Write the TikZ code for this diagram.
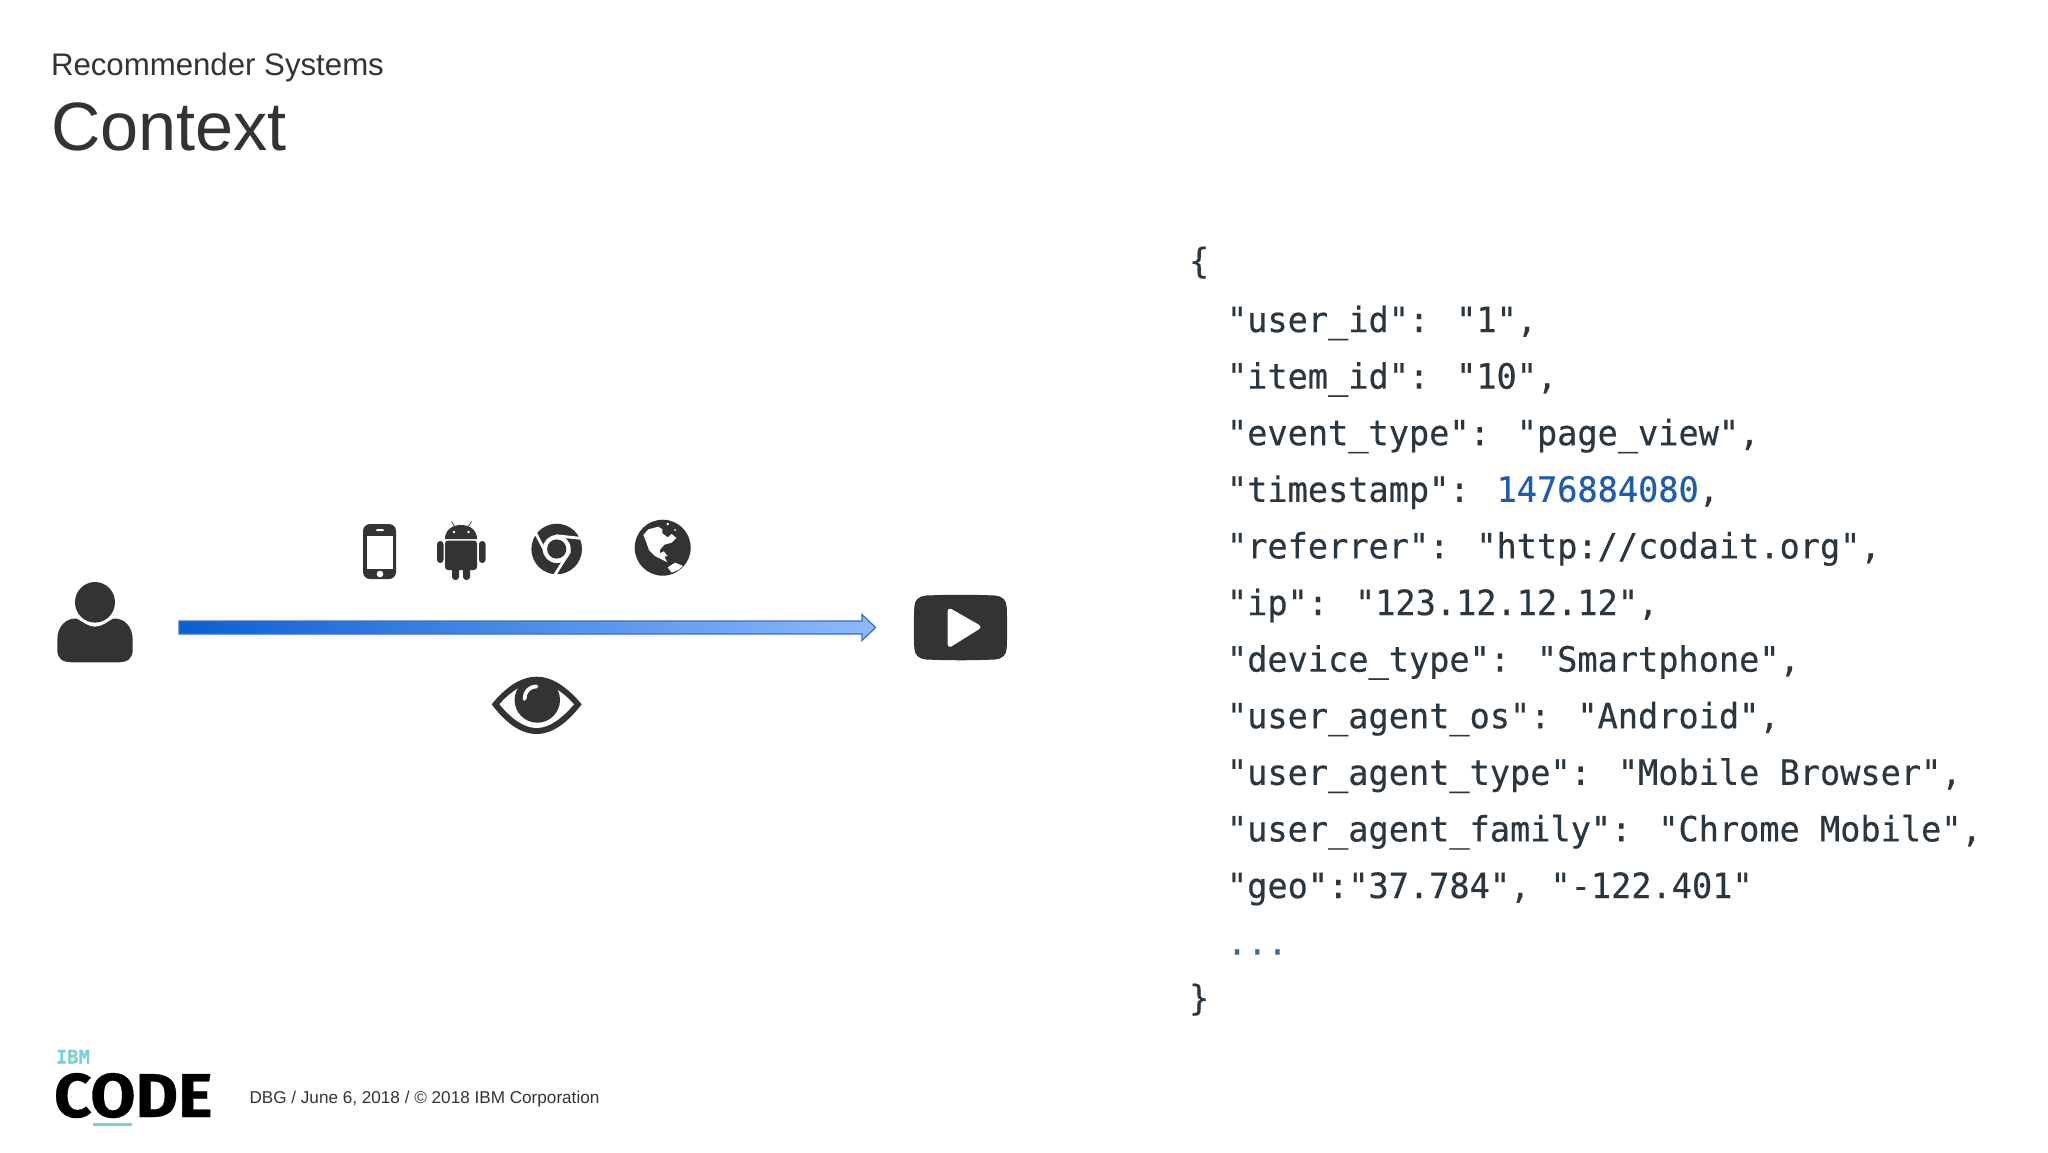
\documentclass[tikz,border=0pt]{standalone}
\usepackage{fontspec}
\setmainfont{Liberation Sans}
\newfontfamily\jsonfont{DejaVu Sans Mono}[FakeStretch=0.965,RawFeature={embolden=0.45}]
\newfontfamily\logofont{Fira Sans}[UprightFont=* Bold,FakeStretch=1.055,RawFeature={embolden=0.5}]
\newfontfamily\ibmfont{DejaVu Sans Mono Bold}[RawFeature={embolden=0.4}]
\definecolor{icon}{HTML}{333333}
\definecolor{ink}{HTML}{2A3640}
\definecolor{numblue}{HTML}{1F5CAB}
\definecolor{dotblue}{HTML}{3F6C8E}
\definecolor{teal}{HTML}{78D2D0}
\definecolor{arrowA}{HTML}{0B5FD2}
\definecolor{arrowB}{HTML}{8FB9FA}
\definecolor{arrowEdge}{HTML}{3B6FC4}
\tikzset{
  txt/.style={inner sep=0pt,outer sep=0pt,anchor=base west},
  jsonline/.style={txt,text=ink,font=\jsonfont\fontsize{17.4}{20}\selectfont},
  iconfill/.style={fill=icon,draw=none},
  knock/.style={fill=white,draw=none},
  cut/.style={draw=white,line width=1.4pt,line cap=butt},
}
\begin{document}
\begin{tikzpicture}[x=0.5pt,y=-0.5pt]
\useasboundingbox (0,0) rectangle (2048,1152);
% titles
\node[txt,text=icon,font=\fontsize{15.6}{18}\selectfont] (sub) at (51,75.7) {Recommender Systems};
\node[txt,text=icon,font=\fontsize{34.2}{40}\selectfont] (title) at (51,150.2) {Context};
% person
\fill[iconfill] (95,602.3) ellipse [x radius=20,y radius=20.3];
\fill[iconfill] (57.3,640) .. controls (57.3,626) and (66,618) .. (76.7,618.5)
  .. controls (83,622) and (88,626.7) .. (95,626.7)
  .. controls (102,626.7) and (107,622) .. (113.3,618.5)
  .. controls (124,618) and (132.7,626) .. (132.7,640)
  -- (132.7,650) .. controls (132.7,659) and (127,662.3) .. (118,662.3)
  -- (72,662.3) .. controls (63,662.3) and (57.3,659) .. (57.3,650) -- cycle;
% phone
\fill[iconfill,rounded corners=3.5pt] (363,524) rectangle (396,579);
\fill[knock] (367,536) rectangle (393,569);
\fill[knock,rounded corners=0.5pt] (376,529) rectangle (384,531);
\fill[knock] (380,574) circle (3.3);
% android
\fill[iconfill] (445,539) .. controls (445,531) and (451,525) .. (461,525) .. controls (471,525) and (477,531) .. (477,539) -- cycle;
\fill[iconfill,rounded corners=1.5pt] (445,540.5) -- (477,540.5) -- (477,570) -- (445,570) -- cycle;
\fill[iconfill,rounded corners=1.6pt] (437,541) rectangle (443.5,563);
\fill[iconfill,rounded corners=1.6pt] (479,541) rectangle (485.5,563);
\fill[iconfill,rounded corners=1.6pt] (452,565) rectangle (459,580);
\fill[iconfill,rounded corners=1.6pt] (463,565) rectangle (470,580);
\draw[icon,line width=0.35pt] (455,527) -- (451.5,521.5) (468,527) -- (471.5,521.5);
\fill[knock] (454,532) circle (1.4) (468.5,532) circle (1.4);
% chrome
\fill[iconfill] (556.7,549) circle (25.3);
\draw[cut] (535.5,533) -- (549,558.5);
\draw[cut] (556,535.7) -- (582.5,538.5);
\draw[cut] (569.8,551) -- (554.5,575.5);
\fill[knock] (556.7,549) circle (14);
\fill[iconfill] (556.7,549) circle (9.6);
% globe
\fill[iconfill] (662.7,547.7) circle (28);
\begin{scope}[shift={(625,510)},x=0.1667pt,y=-0.1667pt]
\fill[knock] (55,75) -- (70,58) -- (100,50) -- (112,58) -- (112,70) -- (128,82) -- (140,72) -- (154,84) -- (140,98) -- (118,104) -- (106,118) -- (104,130) -- (116,124) -- (128,138) -- (118,140) -- (126,156) -- (110,148) -- (90,138) -- (72,120) -- (62,92) -- cycle;
\fill[iconfill] (122,66) circle (7);
\fill[knock] (128,172) -- (150,158) -- (174,168) -- (160,180) -- (140,188) -- cycle;
\fill[knock] (128,42) circle (4) (150,60) circle (3);
\end{scope}
% eye
\fill[iconfill] (491.7,704.3) .. controls (505,688) and (520,676.7) .. (536.7,676.7)
  .. controls (553,676.7) and (568,688) .. (581.7,704.3)
  .. controls (568,722) and (553,734) .. (536.7,734)
  .. controls (520,734) and (505,722) .. (491.7,704.3) -- cycle;
\fill[knock] (499.5,704.3) .. controls (510,692) and (523,683) .. (536.7,683)
  .. controls (550,683) and (563,692) .. (574,704.3)
  .. controls (563,717) and (550,728) .. (536.7,728)
  .. controls (523,728) and (510,717) .. (499.5,704.3) -- cycle;
\fill[iconfill] (537.3,700) circle (22.7);
\draw[white,line width=1.9pt,line cap=round] (524.5,699) .. controls (524.5,692) and (529,686.5) .. (536.5,686.5);
% play
\fill[iconfill] (926,595.5) .. controls (950,594.5) and (972,594.5) .. (995,595.5)
  .. controls (1002,596) and (1006.7,600) .. (1006.7,607)
  .. controls (1007.3,622) and (1007.3,634) .. (1006.7,648)
  .. controls (1006.7,655) and (1002,659) .. (995,659.5)
  .. controls (972,660.5) and (950,660.5) .. (926,659.5)
  .. controls (919,659) and (914.3,655) .. (914.3,648)
  .. controls (913.7,634) and (913.7,622) .. (914.3,607)
  .. controls (914.3,600) and (919,596) .. (926,595.5) -- cycle;
\fill[white,draw=white,line width=2.4pt,line join=round] (950,611) -- (978,627) -- (950,644.5) -- cycle;
% arrow
\coordinate (astart) at (179,627.5);
\coordinate (aend) at (875.6,627.5);
\draw[arrowEdge,line width=0.6pt,left color=arrowA,right color=arrowB]
  (astart) ++(0,-6.5) -- ++(683,0) -- ++(0,-6.5) -- (aend) -- ++(-13.6,13) -- ++(0,-6.5) -- ++(-683,0) -- cycle;
% json
\node[jsonline] (open) at (1189,273) {\{};
\node[jsonline] (l1) at (1227,332) {"user\_id": "1",};
\node[jsonline] (l2) at (1227,388.6) {"item\_id": "10",};
\node[jsonline] (l3) at (1227,445.2) {"event\_type": "page\_view",};
\node[jsonline] (l4) at (1227,501.8) {"timestamp": \textcolor{numblue}{1476884080},};
\node[jsonline] (l5) at (1227,558.4) {"referrer": "http://codait.org",};
\node[jsonline] (l6) at (1227,615) {"ip": "123.12.12.12",};
\node[jsonline] (l7) at (1227,671.6) {"device\_type": "Smartphone",};
\node[jsonline] (l8) at (1227,728.2) {"user\_agent\_os": "Android",};
\node[jsonline] (l9) at (1227,784.8) {"user\_agent\_type": "Mobile Browser",};
\node[jsonline] (l10) at (1227,841.4) {"user\_agent\_family": "Chrome Mobile",};
\node[jsonline] (l11) at (1227,898) {"geo":"37.784", "-122.401"};
\node[jsonline,text=dotblue] (l12) at (1227,954.6) {...};
\node[jsonline] (close) at (1189,1010) {\}};
% logo
\node[txt,text=teal,font=\ibmfont\fontsize{9.4}{11}\selectfont] (ibm) at (56,1063.5) {IBM};
\node[txt,text=black,font=\logofont\fontsize{31}{36}\selectfont] (code) at (54,1117) {CODE};
\fill[teal] (92.7,1122.5) rectangle (132.3,1125.5);
\node[txt,text=icon,font=\fontsize{8.57}{10}\selectfont] (foot) at (249.5,1103.6) {DBG / June 6, 2018 / © 2018 IBM Corporation};
\end{tikzpicture}
\end{document}
